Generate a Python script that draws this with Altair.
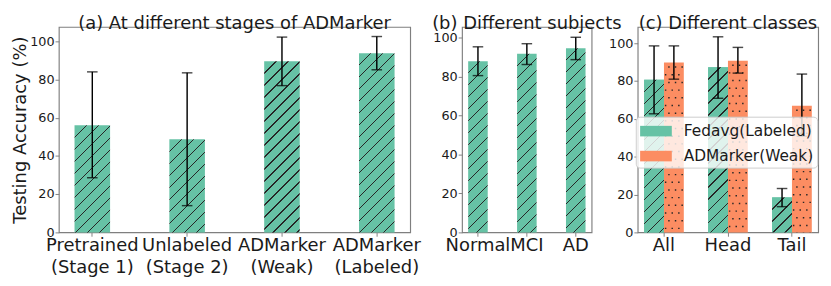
import altair as alt
import pandas as pd

# ---------------- data ----------------
stages = ["Pretrained\n(Stage 1)", "Unlabeled\n(Stage 2)", "ADMarker\n(Weak)", "ADMarker\n(Labeled)"]
stage_acc = [56.1, 48.7, 89.5, 93.7]
stage_lo = [28.6, 14.0, 76.8, 85.1]
stage_hi = [84.0, 83.5, 102.2, 102.5]

subjects = ["Normal", "MCI", "AD"]
subject_acc = [88.0, 91.8, 94.6]
subject_lo = [80.6, 86.3, 88.8]
subject_hi = [95.4, 97.0, 100.3]

classes = ["All", "Head", "Tail"]
methods = ["Fedavg(Labeled)", "ADMarker(Weak)"]
fedavg_acc = [80.7, 87.3, 18.5]
fedavg_lo = [62.7, 70.9, 13.6]
fedavg_hi = [98.6, 103.4, 23.2]
admarker_acc = [89.8, 90.8, 67.0]
admarker_lo = [81.0, 84.2, 50.8]
admarker_hi = [98.6, 97.8, 83.7]

# ---------------- style ----------------
GREEN = "#66c2a5"
ORANGE = "#fc8d62"
INK = "#262626"
FONT = "DejaVu Sans"
BIG = 18.67
SMALL = 13.33
H = 214
W_A, W_B, W_C = 366, 135, 188
YMAX_A, YMAX_B, YMAX_C = 107.5, 105.6, 108.6
PAD_A = (0.625, 0.165)
PAD_B = (0.6, 0.125)
PAD_C = (0.38, 0.1)
TICKS = [0, 20, 40, 60, 80, 100]
YTITLE = "Testing Accuracy (%)"


def bandwidth(width, n, pi, po):
    step = width / (n - pi + 2 * po)
    return step * (1 - pi)


def hatch(w, h, period=12.5, lw=1.3):
    """Linear gradient drawing '/' hatch lines across a w x h bar."""
    L = w + h
    c = w * (w + h) / (w * w + h * h)
    stops = [{"offset": 0, "color": GREEN}]
    k = 1
    while k * period + lw / 2 < L:
        a = (k * period - lw / 2) / L
        b = (k * period + lw / 2) / L
        stops += [
            {"offset": a, "color": GREEN},
            {"offset": a, "color": INK},
            {"offset": b, "color": INK},
            {"offset": b, "color": GREEN},
        ]
        k += 1
    stops.append({"offset": 1, "color": GREEN})
    return {"gradient": "linear", "x1": 0, "y1": 0, "x2": c, "y2": c * h / w, "stops": stops}


def y_enc(field, ymax, title=None):
    return alt.Y(
        f"{field}:Q",
        scale=alt.Scale(domain=[0, ymax], nice=False, zero=True),
        axis=alt.Axis(values=TICKS, title=title, titlePadding=0),
    )


def error_layers(df, x, ymax, xo=None, title=None):
    enc_extra = {} if xo is None else {"xOffset": xo}
    rule = alt.Chart(df).mark_rule(color="black", strokeWidth=1.5).encode(
        x=x, y=y_enc("lo", ymax, title), y2="hi:Q", **enc_extra)
    cap_lo = alt.Chart(df).mark_tick(color="black", thickness=1.5, size=11, orient="horizontal").encode(
        x=x, y=y_enc("lo", ymax, title), **enc_extra)
    cap_hi = alt.Chart(df).mark_tick(color="black", thickness=1.5, size=11, orient="horizontal").encode(
        x=x, y=y_enc("hi", ymax, title), **enc_extra)
    return [rule, cap_lo, cap_hi]


# ---------------- panel (a) ----------------
dfa = pd.DataFrame({"stage": stages, "acc": stage_acc, "lo": stage_lo, "hi": stage_hi})
xa = alt.X("stage:N", sort=stages, title=None,
           scale=alt.Scale(paddingInner=PAD_A[0], paddingOuter=PAD_A[1], round=False),
           axis=alt.Axis(labelAngle=0, labelExpr="split(datum.label, '\\n')", labelOverlap=False))
bw_a = bandwidth(W_A, len(stages), *PAD_A)
layers_a = []
for s, v in zip(stages, stage_acc):
    layers_a.append(
        alt.Chart(dfa).transform_filter(alt.FieldEqualPredicate(field="stage", equal=s))
        .mark_bar(fill=hatch(bw_a, v / YMAX_A * H), strokeWidth=0)
        .encode(x=xa, y=y_enc("acc", YMAX_A, YTITLE))
    )
layers_a += error_layers(dfa, xa, YMAX_A, title=YTITLE)
panel_a = alt.layer(*layers_a).properties(
    width=W_A, height=H, title="(a) At different stages of ADMarker")

# ---------------- panel (b) ----------------
dfb = pd.DataFrame({"subject": subjects, "acc": subject_acc, "lo": subject_lo, "hi": subject_hi})
xb = alt.X("subject:N", sort=subjects, title=None,
           scale=alt.Scale(paddingInner=PAD_B[0], paddingOuter=PAD_B[1], round=False),
           axis=alt.Axis(labelAngle=0, labelOverlap=False))
bw_b = bandwidth(W_B, len(subjects), *PAD_B)
layers_b = []
for s, v in zip(subjects, subject_acc):
    layers_b.append(
        alt.Chart(dfb).transform_filter(alt.FieldEqualPredicate(field="subject", equal=s))
        .mark_bar(fill=hatch(bw_b, v / YMAX_B * H), strokeWidth=0)
        .encode(x=xb, y=y_enc("acc", YMAX_B))
    )
layers_b += error_layers(dfb, xb, YMAX_B)
panel_b = alt.layer(*layers_b).properties(width=W_B, height=H, title="(b) Different subjects")

# ---------------- panel (c) ----------------
dfc = pd.DataFrame({
    "cls": classes * 2,
    "method": [methods[0]] * 3 + [methods[1]] * 3,
    "acc": fedavg_acc + admarker_acc,
    "lo": fedavg_lo + admarker_lo,
    "hi": fedavg_hi + admarker_hi,
})
c_scale = alt.Scale(paddingInner=PAD_C[0], paddingOuter=PAD_C[1], round=False)
xc = alt.X("cls:N", sort=classes, title=None, scale=c_scale, axis=alt.Axis(labelAngle=0))
xo = alt.XOffset("method:N", sort=methods, scale=alt.Scale(paddingInner=0, paddingOuter=0))
bw_c = bandwidth(W_C, len(classes), *PAD_C) / 2

base_c = alt.Chart(dfc).mark_bar(strokeWidth=0).encode(
    x=xc, xOffset=xo, y=y_enc("acc", YMAX_C),
    color=alt.Color("method:N", sort=methods,
                    scale=alt.Scale(domain=methods, range=[GREEN, ORANGE]),
                    legend=alt.Legend(
                        title=None, orient="none", legendX=-2, legendY=93.5,
                        direction="vertical", labelFontSize=16, labelFont=FONT,
                        labelColor="#1a1a1a",
                        symbolType="M-1.5,-0.5H1.5V0.5H-1.5Z", symbolSize=484,
                        symbolStrokeWidth=0, symbolOpacity=1, symbolOffset=6,
                        labelOffset=18, rowPadding=7, padding=4,
                        fillColor="rgba(255,255,255,0.8)", strokeColor="#cccccc",
                        cornerRadius=4)),
)
layers_c = [base_c]
for s, v in zip(classes, fedavg_acc):
    layers_c.append(
        alt.Chart(dfc)
        .transform_filter(alt.FieldEqualPredicate(field="cls", equal=s))
        .transform_filter(alt.FieldEqualPredicate(field="method", equal=methods[0]))
        .mark_bar(fill=hatch(bw_c, v / YMAX_C * H), strokeWidth=0)
        .encode(x=xc, xOffset=xo, y=y_enc("acc", YMAX_C))
    )
# dotted pattern on the orange bars: staggered columns of dots
for j in range(6):
    layers_c.append(
        alt.Chart(dfc)
        .transform_filter(alt.FieldEqualPredicate(field="method", equal=methods[1]))
        .mark_rule(color=INK, strokeWidth=1.5, strokeDash=[1.5, 14.5],
                   strokeDashOffset=(0 if j % 2 == 0 else 8) + 4)
        .encode(x=alt.X("cls:N", sort=classes, title=None, scale=c_scale,
                        bandPosition=0.5 + (j + 0.5) / 12, axis=alt.Axis(labelAngle=0)),
                y=y_enc("acc", YMAX_C), y2=alt.datum(0))
    )
layers_c += error_layers(dfc, xc, YMAX_C, xo)
panel_c = alt.layer(*layers_c).properties(width=W_C, height=H, title="(c) Different classes")

# ---------------- assemble ----------------
inner = alt.hconcat(panel_b, panel_c, spacing=48, bounds="flush").resolve_legend(color="independent")
chart = alt.hconcat(
    panel_a, inner, spacing=54, bounds="flush",
).resolve_legend(color="independent").properties(
    padding={"left": 2, "top": 0, "right": 4, "bottom": 2}
).configure(font=FONT).configure_view(
    stroke="#7f7f7f", strokeWidth=1.2
).configure_axis(
    domain=False, grid=False, tickColor="#7f7f7f", tickSize=4, tickWidth=1,
    labelColor="#1a1a1a", labelFont=FONT, labelFontSize=SMALL, labelPadding=1,
    titleFont=FONT, titleFontSize=BIG, titleFontWeight="normal", titleColor="#1a1a1a",
).configure_axisX(
    labelFontSize=BIG, labelPadding=0, labelLineHeight=22.4,
).configure_title(
    font=FONT, fontSize=BIG, fontWeight="normal", color="#1a1a1a", offset=-6, anchor="middle"
)

chart.save("out.html", embed_options={"renderer": "svg", "actions": False})
